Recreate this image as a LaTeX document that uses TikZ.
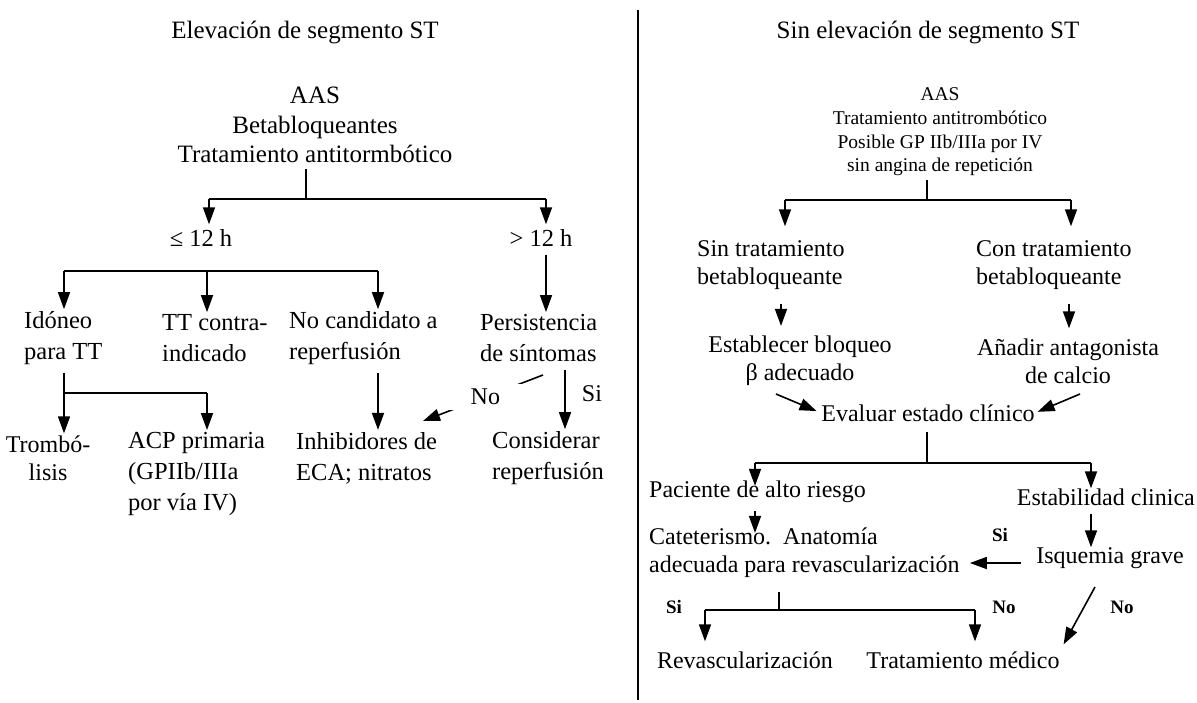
\documentclass[tikz,border=0pt]{standalone}
\usepackage{fontspec}
\setmainfont{Liberation Serif}
\usepackage{tikz}
\usetikzlibrary{arrows.meta,calc}

\begin{document}
\begin{tikzpicture}[x=1pt,y=-1pt,
  big/.style={inner sep=0pt,font=\fontsize{24.5}{31}\selectfont},
  mid/.style={inner sep=0pt,font=\fontsize{24}{28}\selectfont},
  sml/.style={inner sep=0pt,font=\fontsize{19.5}{23.7}\selectfont},
  lbl/.style={inner sep=0pt,font=\fontsize{19}{22}\selectfont\bfseries},
  ln/.style={line width=1.6pt},
  arr/.style={line width=1.6pt,-{Triangle[length=17pt,width=12pt]},shorten >=2pt}]
\useasboundingbox (0,0) rectangle (1197,702);

\draw[line width=1.4pt] (638,10) -- (638,700);

% Elevacion de segmento ST
\node[big,font=\fontsize{25}{30}\selectfont] (titL) at (305,33) {Elevación de segmento ST};
\node[big,align=center,font=\fontsize{25}{29.5}\selectfont] (topL) at (315,125) {AAS\\Betabloqueantes\\Tratamiento antitormbótico};
\coordinate (brL) at (306,199);
\coordinate (lA) at (209,199);
\coordinate (lB) at (546,199);
\draw[ln,shorten <=6pt] (topL.south -| brL) -- (brL);
\draw[ln] (lA) -- (lB);
\node[big] (le12) at (201,238) {≤ 12 h};
\node[big] (gt12) at (541,238) {> 12 h};
\draw[arr,shorten >=5pt] (lA) -- (lA |- le12.north);
\draw[arr,shorten >=5pt] (lB) -- (lB |- gt12.north);

\node[big,anchor=west,align=left] (idoneo) at (24,338) {Idóneo\\para TT};
\node[big,anchor=west,align=left] (ttci) at (162,338) {TT contra-\\indicado};
\node[big,anchor=west,align=left] (nocand) at (289,338) {No candidato a\\reperfusión};
\node[big,anchor=west,align=left] (persist) at (480,338) {Persistencia\\de síntomas};

\coordinate (l2A) at (64,271);
\coordinate (l2B) at (207,271);
\coordinate (l2C) at (378,271);
\draw[ln] (l2A) -- (l2C);
\draw[arr] (l2A) -- (l2A |- idoneo.north);
\draw[arr] (l2B) -- (l2B |- ttci.north);
\draw[arr] (l2C) -- (l2C |- nocand.north);
\draw[arr,shorten <=8pt] (gt12.south -| lB) -- (lB |- persist.north);

\node[mid,align=center] (trombo) at (48,458) {Trombó-\\lisis};
\node[big,anchor=west,align=left] (acp) at (128,474) {ACP primaria\\(GPIIb/IIIa\\por vía IV)};
\node[big,anchor=west,align=left] (inhib) at (296,458) {Inhibidores de\\ECA; nitratos};
\node[big,anchor=west,align=left] (consid) at (492,458) {Considerar\\reperfusión};

\coordinate (l3A) at (64,393);
\coordinate (l3B) at (207,393);
\coordinate (siX) at (565,393);
\draw[ln,shorten <=8pt] (idoneo.south -| l3A) -- (l3A) -- (l3B);
\draw[arr] (l3A) -- (l3A |- trombo.north);
\draw[arr] (l3B) -- (l3B |- acp.north);
\draw[arr,shorten <=8pt] (nocand.south -| l2C) -- (l2C |- inhib.north);
\draw[arr,shorten <=8pt] (persist.south -| siX) -- (siX |- consid.north);
\node[mid] (siL) at (592,394) {Si};
\coordinate (noS) at (543,375);
\coordinate (noE) at (423,421);
\draw[arr,shorten >=0pt] (noS) -- node[mid,pos=0.48,fill=white,inner xsep=24pt,inner ysep=5pt] (noL) {No} (noE);

% Sin elevacion de segmento ST
\node[big,font=\fontsize{25}{30}\selectfont] (titR) at (928,33) {Sin elevación de segmento ST};
\node[sml,align=center] (topR) at (940,132) {AAS\\Tratamiento antitrombótico\\Posible GP IIb/IIIa por IV\\sin angina de repetición};
\coordinate (brR) at (927,200);
\coordinate (rA) at (785,200);
\coordinate (rB) at (1071,200);
\draw[ln,shorten <=4pt] (topR.south -| brR) -- (brR);
\draw[ln] (rA) -- (rB);

\node[mid,anchor=west,align=left] (sinbb) at (697,265) {Sin tratamiento\\betabloqueante};
\node[mid,anchor=west,align=left] (conbb) at (976,265) {Con tratamiento\\betabloqueante};
\draw[arr,shorten >=14pt] (rA) -- (rA |- sinbb.north);
\draw[arr,shorten >=14pt] (rB) -- (rB |- conbb.north);

\node[mid,align=center] (establ) at (800,361) {Establecer bloqueo\\β adecuado};
\node[mid,align=center] (anadir) at (1068,361) {Añadir antagonista\\de calcio};
\draw[arr,shorten <=14pt,shorten >=10pt] (sinbb.south -| 781,0) -- (781,0 |- establ.north);
\draw[arr,shorten <=14pt,shorten >=10pt] (conbb.south -| 1069,0) -- (1069,0 |- anadir.north);

\node[mid] (evaluar) at (928,413) {Evaluar estado clínico};
\coordinate (dL) at (776,394);
\coordinate (dR) at (1080,394);
\draw[arr,shorten >=5pt] (dL) -- (evaluar.west);
\draw[arr,shorten >=3pt] (dR) -- (evaluar.east);

\coordinate (brE) at (927,463);
\coordinate (eA) at (755,463);
\coordinate (eB) at (1091,463);
\draw[ln,shorten <=10pt] (evaluar.south -| brE) -- (brE);
\draw[ln] (eA) -- (eB);
\node[mid,anchor=west] (pac) at (649,492) {Paciente de alto riesgo};
\node[mid,anchor=east] (estab) at (1195,497) {Estabilidad clinica};
\draw[arr,shorten >=-5pt] (eA) -- (eA |- pac.north);
\draw[arr,shorten >=0pt] (eB) -- (eB |- estab.north);

\node[mid,anchor=west,align=left] (cat) at (649,553) {Cateterismo.\ \ Anatomía\\adecuada para revascularización};
\node[mid] (isq) at (1110,558) {Isquemia grave};
\draw[arr,shorten <=8pt,shorten >=-5pt] (pac.south -| eA) -- (eA |- cat.north);
\draw[arr,shorten <=8pt,shorten >=0pt] (estab.south -| eB) -- (eB |- isq.north);
\coordinate (isqW) at (1021,563);
\draw[arr,shorten >=10pt] (isqW) -- (isqW -| cat.east);
\node[lbl] (siR) at (1000,535) {Si};

\coordinate (cA) at (779,610);
\coordinate (cL) at (705,610);
\coordinate (cR) at (975,610);
\draw[ln,shorten <=14pt] (cat.south -| cA) -- (cA);
\draw[ln] (cL) -- (cR);
\node[mid] (revasc) at (745,660) {Revascularización};
\node[mid] (tmed) at (963,660) {Tratamiento médico};
\draw[arr,shorten >=10pt] (cL) -- (cL |- revasc.north);
\draw[arr,shorten >=10pt] (cR) -- (cR |- tmed.north);
\coordinate (isqS) at (1095,587);
\draw[arr,shorten >=8pt] (isqS) -- (tmed.north east);
\node[lbl] (siB) at (674,607) {Si};
\node[lbl] (noB) at (1004,607) {No};
\node[lbl] (noC) at (1122,607) {No};
%\node[lbl] at (1000,560) {No};
\end{tikzpicture}
\end{document}
